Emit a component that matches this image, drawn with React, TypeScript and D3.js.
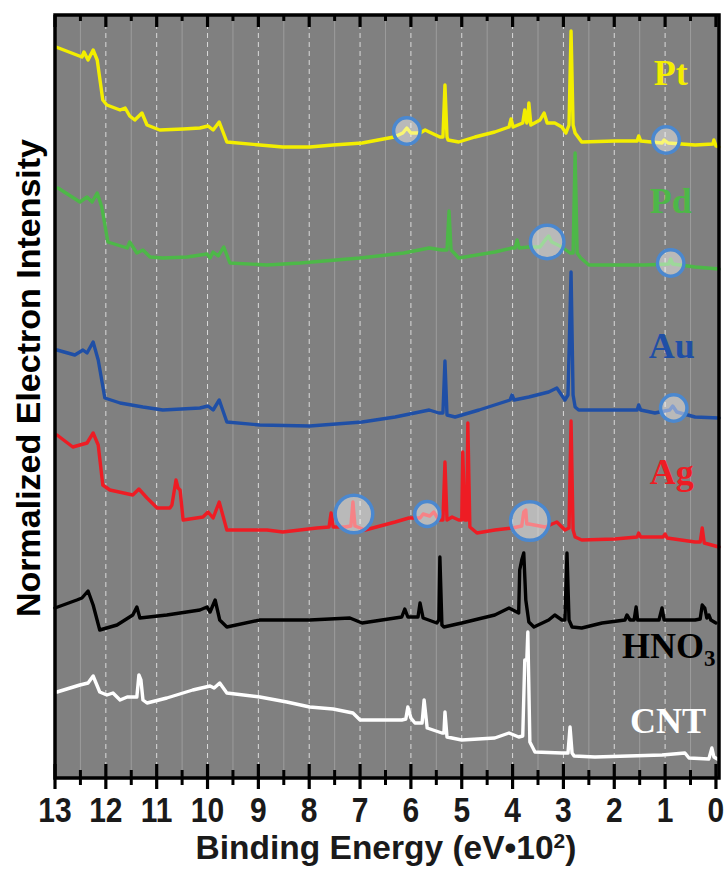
import React from 'react';
import * as d3 from 'd3';

// Binding energy (eV·10²) vs normalized intensity (arb. units, stacked)
const ptSpectrum: [number, number][] = [
  [12.98, 7.31], [12.47, 7.21], [12.43, 7.26], [12.35, 7.18], [12.25, 7.28], [12.17, 7.18], [12.06, 6.78],
  [11.98, 6.73], [11.72, 6.68], [11.62, 6.70], [11.53, 6.62], [11.43, 6.58], [11.29, 6.65], [11.19, 6.53],
  [10.94, 6.48], [10.48, 6.49], [10.15, 6.50], [9.99, 6.52], [9.89, 6.48], [9.77, 6.56], [9.62, 6.36],
  [8.97, 6.33], [8.52, 6.31], [7.99, 6.31], [7.53, 6.33], [6.96, 6.35], [6.33, 6.41], [6.16, 6.45],
  [6.08, 6.50], [6.0, 6.45], [5.82, 6.45], [5.72, 6.48], [5.64, 6.46], [5.43, 6.41], [5.37, 6.41],
  [5.33, 6.93], [5.29, 6.41], [5.27, 6.38], [5.06, 6.36], [4.74, 6.41], [4.35, 6.46], [4.07, 6.51],
  [4.03, 6.59], [3.99, 6.51], [3.8, 6.55], [3.76, 6.68], [3.72, 6.55], [3.7, 6.58], [3.68, 6.75],
  [3.64, 6.53], [3.46, 6.58], [3.38, 6.65], [3.32, 6.55], [3.17, 6.55], [3.03, 6.51], [2.95, 6.45],
  [2.89, 6.53], [2.85, 7.47], [2.81, 6.53], [2.77, 6.45], [2.64, 6.36], [1.99, 6.37], [1.55, 6.37],
  [1.52, 6.42], [1.48, 6.37], [1.06, 6.35], [1.02, 6.38], [0.94, 6.35], [0.41, 6.33], [0.06, 6.34],
  [0.04, 6.38], [0.0, 6.32], [-0.06, 6.31],
];

const pdSpectrum: [number, number][] = [
  [12.94, 5.90], [12.51, 5.76], [12.37, 5.81], [12.27, 5.76], [12.17, 5.85], [12.08, 5.71], [11.96, 5.36],
  [11.58, 5.30], [11.53, 5.36], [11.39, 5.25], [11.27, 5.28], [11.13, 5.21], [10.88, 5.20], [10.4, 5.21],
  [10.01, 5.24], [9.95, 5.20], [9.89, 5.26], [9.79, 5.22], [9.68, 5.31], [9.56, 5.15], [8.83, 5.13],
  [8.18, 5.15], [7.0, 5.20], [6.14, 5.25], [5.64, 5.30], [5.39, 5.28], [5.29, 5.28], [5.25, 5.67],
  [5.21, 5.28], [5.15, 5.25], [5.06, 5.20], [4.35, 5.26], [4.01, 5.30], [3.95, 5.30], [3.91, 5.38],
  [3.87, 5.30], [3.68, 5.31], [3.46, 5.31], [3.36, 5.38], [3.29, 5.42], [3.23, 5.36], [3.03, 5.31],
  [2.87, 5.25], [2.81, 5.25], [2.77, 6.25], [2.73, 5.25], [2.66, 5.20], [2.5, 5.13], [1.91, 5.13],
  [1.4, 5.13], [0.93, 5.14], [0.89, 5.19], [0.85, 5.14], [0.41, 5.11], [-0.06, 5.09],
];

const auSpectrum: [number, number][] = [
  [12.96, 4.28], [12.61, 4.23], [12.45, 4.28], [12.37, 4.25], [12.25, 4.36], [12.15, 4.18], [12.02, 3.80],
  [11.72, 3.75], [11.27, 3.71], [10.88, 3.68], [10.15, 3.70], [9.99, 3.72], [9.89, 3.68], [9.77, 3.78],
  [9.62, 3.56], [8.97, 3.53], [7.99, 3.52], [6.96, 3.56], [6.31, 3.61], [5.64, 3.68], [5.45, 3.65],
  [5.37, 3.65], [5.33, 4.17], [5.29, 3.63], [5.13, 3.61], [4.66, 3.68], [4.05, 3.78], [4.01, 3.83],
  [3.97, 3.78], [3.68, 3.81], [3.29, 3.86], [3.13, 3.90], [2.97, 3.78], [2.91, 3.83], [2.85, 5.06],
  [2.81, 3.83], [2.77, 3.71], [2.7, 3.68], [1.99, 3.68], [1.55, 3.68], [1.52, 3.73], [1.48, 3.68],
  [1.2, 3.65], [0.91, 3.68], [0.85, 3.72], [0.77, 3.66], [0.41, 3.61], [-0.06, 3.60],
];

const agSpectrum: [number, number][] = [
  [12.96, 3.43], [12.65, 3.31], [12.37, 3.35], [12.25, 3.45], [12.15, 3.33], [12.06, 2.93], [11.92, 2.88],
  [11.47, 2.83], [11.35, 2.89], [11.19, 2.80], [10.99, 2.70], [10.74, 2.70], [10.7, 2.73], [10.62, 2.98],
  [10.58, 2.90], [10.54, 2.88], [10.48, 2.58], [10.09, 2.61], [9.99, 2.66], [9.89, 2.60], [9.77, 2.76],
  [9.62, 2.48], [8.83, 2.48], [8.52, 2.46], [7.85, 2.50], [7.61, 2.51], [7.57, 2.65], [7.53, 2.51],
  [7.3, 2.51], [7.18, 2.52], [7.14, 2.76], [7.1, 2.52], [6.9, 2.48], [6.31, 2.56], [6.04, 2.60],
  [5.82, 2.60], [5.76, 2.64], [5.63, 2.62], [5.55, 2.66], [5.45, 2.58], [5.37, 2.58], [5.33, 3.16],
  [5.29, 2.58], [5.19, 2.61], [5.06, 2.58], [5.0, 2.58], [4.98, 3.26], [4.94, 2.58], [4.9, 2.58],
  [4.88, 3.55], [4.84, 2.51], [4.7, 2.45], [4.35, 2.48], [4.01, 2.50], [3.82, 2.52], [3.78, 2.66],
  [3.74, 2.68], [3.72, 2.54], [3.68, 2.54], [3.36, 2.51], [3.13, 2.56], [2.97, 2.48], [2.89, 2.50],
  [2.85, 3.57], [2.81, 2.48], [2.77, 2.41], [2.64, 2.38], [1.99, 2.39], [1.55, 2.41], [1.52, 2.45],
  [1.48, 2.41], [1.04, 2.41], [1.0, 2.44], [0.96, 2.40], [0.41, 2.36], [0.31, 2.36], [0.27, 2.50],
  [0.23, 2.35], [-0.06, 2.31],
];

const hno3Spectrum: [number, number][] = [
  [13.0, 1.70], [12.57, 1.78], [12.47, 1.80], [12.35, 1.87], [12.25, 1.73], [12.12, 1.48], [11.78, 1.53],
  [11.47, 1.63], [11.39, 1.71], [11.33, 1.60], [10.8, 1.63], [10.15, 1.68], [10.01, 1.71], [9.95, 1.66],
  [9.85, 1.78], [9.76, 1.58], [9.62, 1.51], [8.97, 1.58], [7.99, 1.58], [7.2, 1.60], [6.96, 1.55],
  [6.18, 1.61], [6.12, 1.69], [6.06, 1.61], [5.86, 1.61], [5.82, 1.75], [5.76, 1.60], [5.49, 1.55],
  [5.45, 1.58], [5.43, 2.21], [5.39, 1.53], [5.35, 1.51], [5.0, 1.55], [4.35, 1.63], [4.07, 1.70],
  [3.88, 1.65], [3.86, 2.08], [3.82, 2.18], [3.78, 2.25], [3.74, 1.78], [3.68, 1.56], [3.58, 1.51],
  [3.29, 1.58], [3.17, 1.63], [3.03, 1.58], [2.97, 1.58], [2.93, 2.25], [2.89, 1.58], [2.83, 1.51],
  [2.64, 1.50], [2.24, 1.55], [1.79, 1.58], [1.75, 1.63], [1.69, 1.58], [1.61, 1.58], [1.57, 1.71],
  [1.54, 1.58], [1.12, 1.58], [1.06, 1.70], [1.02, 1.58], [0.41, 1.58], [0.31, 1.59], [0.27, 1.73],
  [0.22, 1.70], [0.18, 1.60], [0.14, 1.63], [0.1, 1.58], [0.0, 1.55],
];

const cntSpectrum: [number, number][] = [
  [12.96, 0.86], [12.51, 0.93], [12.35, 0.95], [12.25, 1.02], [12.12, 0.86], [11.98, 0.83], [11.86, 0.85],
  [11.72, 0.78], [11.58, 0.81], [11.39, 0.81], [11.35, 1.03], [11.31, 0.98], [11.27, 0.78], [11.19, 0.75],
  [10.8, 0.80], [10.29, 0.88], [9.95, 0.92], [9.87, 0.90], [9.76, 0.95], [9.62, 0.85], [8.97, 0.81],
  [8.44, 0.76], [7.99, 0.71], [7.53, 0.69], [7.14, 0.65], [7.0, 0.58], [6.18, 0.58], [6.1, 0.59],
  [6.06, 0.71], [6.0, 0.60], [5.92, 0.55], [5.78, 0.55], [5.74, 0.78], [5.68, 0.50], [5.39, 0.45],
  [5.35, 0.45], [5.33, 0.66], [5.29, 0.41], [5.0, 0.38], [4.35, 0.40], [4.07, 0.45], [3.88, 0.41],
  [3.8, 0.42], [3.76, 1.18], [3.72, 1.18], [3.7, 1.46], [3.66, 0.36], [3.56, 0.26], [3.03, 0.25],
  [2.91, 0.25], [2.87, 0.51], [2.83, 0.25], [2.79, 0.22], [2.38, 0.21], [1.06, 0.23], [0.61, 0.25],
  [0.53, 0.20], [0.14, 0.19], [0.08, 0.30], [0.04, 0.21], [-0.06, 0.18],
];

const seriesNames = ['Pt', 'Pd', 'Au', 'Ag', 'HNO3', 'CNT'];
const seriesData = [ptSpectrum, pdSpectrum, auSpectrum, agSpectrum, hno3Spectrum, cntSpectrum];

// label anchors [energy, intensity]
const labelAnchors: [number, number][] = [
  [0.89, 6.93], [0.89, 5.65], [0.87, 4.20], [0.87, 2.94], [1.85, 1.20], [0.945, 0.45],
];

// highlighted regions: [energy, intensity, half-width in energy]
const highlights: [number, number, number][] = [
  [6.08, 6.47, 0.26], [0.98, 6.38, 0.26],
  [3.32, 5.36, 0.33], [0.89, 5.15, 0.26],
  [0.83, 3.70, 0.26],
  [7.12, 2.64, 0.37], [5.68, 2.64, 0.245], [3.66, 2.57, 0.38],
];

const majorTicks = [13, 12, 11, 10, 9, 8, 7, 6, 5, 4, 3, 2, 1, 0];
const minorTicks = [12.5, 11.5, 10.5, 9.5, 8.5, 7.5, 6.5, 5.5, 4.5, 3.5, 2.5, 1.5, 0.5];

const COLORS: Record<string, string> = {
  Pt: '#f3ee00',
  Pd: '#4db848',
  Au: '#1f4fa6',
  Ag: '#ee1c24',
  HNO3: '#000000',
  CNT: '#ffffff',
};

export default function App() {
  const W = 724, H = 872;
  const left = 55, right = 719, top = 15, bottom = 778;
  const x = d3.scaleLinear().domain([13, -0.06]).range([left, right]);
  const y = d3.scaleLinear().domain([0, 7.63]).range([bottom, top]);
  const line = d3.line<[number, number]>().x(d => x(d[0])).y(d => y(d[1]));
  const sans = '"Liberation Sans", Arial, Helvetica, sans-serif';
  const serif = '"Liberation Serif", "Times New Roman", serif';

  return (
    <svg width={W} height={H} style={{ position: 'absolute', left: 0, top: 0, background: '#fff' }}>
      <rect x={left} y={top} width={right - left} height={bottom - top} fill="#808080" />
      {minorTicks.map(t => (
        <line key={'gm' + t} x1={x(t)} x2={x(t)} y1={top} y2={bottom} stroke="#9c9c9c" strokeWidth={1} />
      ))}
      {majorTicks.filter(t => t !== 13 && t !== 0).map(t => (
        <line key={'gM' + t} x1={x(t)} x2={x(t)} y1={top} y2={bottom} stroke="#dadada" strokeWidth={1} strokeDasharray="5,4" />
      ))}
      {seriesData.map((s, i) => (
        <path key={seriesNames[i]} d={line(s) || ''} fill="none" stroke={COLORS[seriesNames[i]]}
          strokeWidth={3.4} strokeLinejoin="round" strokeLinecap="round" />
      ))}
      {highlights.map((h, i) => (
        <circle key={'c' + i} cx={x(h[0])} cy={y(h[1])} r={x(h[0] - h[2]) - x(h[0])}
          fill="rgba(255,255,255,0.45)" stroke="#4b88cf" strokeWidth={3.5} />
      ))}
      {seriesNames.map((n, i) => {
        const [e, v] = labelAnchors[i];
        if (n === 'HNO3') {
          return (
            <text key={'l' + n} x={x(e)} y={y(v)} fontFamily={serif} fontWeight="bold" fontSize={36} fill={COLORS[n]}>
              HNO<tspan fontSize={23} dy={8}>3</tspan>
            </text>
          );
        }
        return (
          <text key={'l' + n} x={x(e)} y={y(v)} textAnchor="middle" fontFamily={serif} fontWeight="bold"
            fontSize={36} fill={COLORS[n]}>{n}</text>
        );
      })}
      {/* frame */}
      <rect x={left} y={top} width={right - left} height={bottom - top} fill="none" stroke="#000" strokeWidth={3.5} />
      {majorTicks.map(t => (
        <g key={'t' + t}>
          <line x1={x(t)} x2={x(t)} y1={bottom - 14} y2={bottom + 11} stroke="#000" strokeWidth={3.2} />
          <line x1={x(t)} x2={x(t)} y1={top} y2={top + 12} stroke="#000" strokeWidth={3.2} />
          <text transform={`translate(${x(t)},822) scale(1,1.15)`} textAnchor="middle" fontFamily={sans}
            fontWeight="bold" fontSize={30} fill="#1a1a1a">{t}</text>
        </g>
      ))}
      {minorTicks.map(t => (
        <g key={'mt' + t}>
          <line x1={x(t)} x2={x(t)} y1={bottom - 8} y2={bottom + 7} stroke="#000" strokeWidth={3} />
          <line x1={x(t)} x2={x(t)} y1={top} y2={top + 6} stroke="#000" strokeWidth={3} />
        </g>
      ))}
      <text x={386} y={859} textAnchor="middle" fontFamily={sans} fontWeight="bold" fontSize={33.5} fill="#1a1a1a">
        Binding Energy (eV•10<tspan fontSize={21} dy={-11}>2</tspan><tspan dy={11}>)</tspan>
      </text>
      <text transform="translate(40,378) rotate(-90)" textAnchor="middle" fontFamily={sans} fontWeight="bold"
        fontSize={34} fill="#000">Normalized Electron Intensity</text>
    </svg>
  );
}
